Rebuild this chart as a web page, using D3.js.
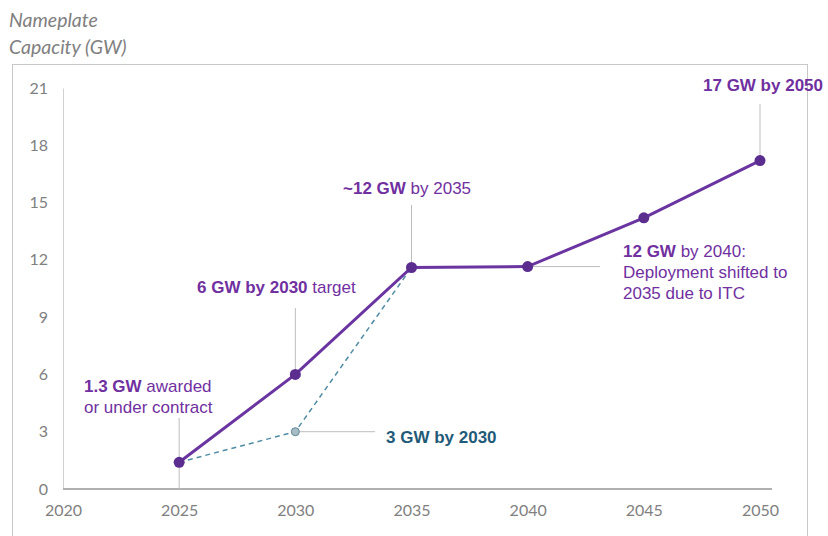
<!DOCTYPE html>
<html><head><meta charset="utf-8">
<script src="https://cdn.jsdelivr.net/npm/d3@7"></script>
<style>body{margin:0;background:#fff}svg{display:block}</style>
</head><body><svg id="c" width="828" height="536"></svg>
<script>
const years = [2025, 2030, 2035, 2040, 2045, 2050];
const planned = [1.4, 6, 11.6, 11.65, 14.2, 17.2];
const revisedYears = [2025, 2030, 2035];
const revised = [1.4, 3, 11.6];
const xTicks = [2020, 2025, 2030, 2035, 2040, 2045, 2050];
const yTicks = [0, 3, 6, 9, 12, 15, 18, 21];

const svg = d3.select("#c");
const x = d3.scaleLinear().domain([2020, 2050]).range([63, 760]);
const y = d3.scaleLinear().domain([0, 21]).range([489, 88]);
const tickFont = "Lato, 'Open Sans', sans-serif";
const purple = "#7030a0", dark = "#5b2d8e", teal = "#4f8ba3", tealText = "#1f5b78";

// frame
svg.append("rect").attr("x", 12.5).attr("y", 64.5).attr("width", 795).attr("height", 480)
  .attr("fill", "none").attr("stroke", "#c8c8c8");

// titles
svg.append("text").attr("x", 9).attr("y", 27).text("Nameplate")
  .attr("font-family", "Lato, 'Open Sans', sans-serif").attr("font-style", "italic").attr("font-size", 19.5).attr("fill", "#808080");
svg.append("text").attr("x", 9).attr("y", 54).text("Capacity (GW)")
  .attr("font-family", "Lato, 'Open Sans', sans-serif").attr("font-style", "italic").attr("font-size", 19.5).attr("fill", "#808080");

// y axis
const ya = svg.append("g").attr("transform", "translate(63,0)")
  .call(d3.axisLeft(y).tickValues(yTicks).tickSize(0).tickPadding(15));
ya.select(".domain").attr("stroke", "#d0d0d0");
ya.selectAll("text").attr("font-family", tickFont).attr("font-size", 16).attr("fill", "#808080");

// x axis
const xa = svg.append("g").attr("transform", "translate(0,489)")
  .call(d3.axisBottom(x).tickValues(xTicks).tickFormat(d3.format("d")).tickSize(0).tickPadding(16));
xa.select(".domain").attr("d", "M63,0H772").attr("stroke", "#b0b0b0").attr("stroke-width", 2);
xa.selectAll("text").attr("font-family", tickFont).attr("font-size", 16).attr("fill", "#808080");

// leader lines
const lg = "#bdbdbd";
const leaders = [
  [x(2025), y(0), x(2025), 418],
  [x(2030), y(6), x(2030), 308],
  [x(2030), y(3), 375, y(3)],
  [x(2035), y(11.6), x(2035), 205],
  [x(2040), y(11.65), 600, y(11.65)],
  [x(2050), y(17.2), x(2050), 104]
];
svg.append("g").selectAll("line").data(leaders).join("line")
  .attr("x1", d => d[0]).attr("y1", d => d[1]).attr("x2", d => d[2]).attr("y2", d => d[3])
  .attr("stroke", lg).attr("stroke-width", 1);

// dashed series
const line = d3.line().x(d => x(d[0])).y(d => y(d[1]));
const rev = revisedYears.map((d, i) => [d, revised[i]]);
svg.append("path").datum(rev).attr("d", line).attr("fill", "none")
  .attr("stroke", teal).attr("stroke-width", 1.5).attr("stroke-dasharray", "5,4");
svg.append("circle").attr("cx", x(2030)).attr("cy", y(3)).attr("r", 4)
  .attr("fill", "#a7bcc4").attr("stroke", "#5f8796").attr("stroke-width", 1);

// main series
const pl = years.map((d, i) => [d, planned[i]]);
svg.append("path").datum(pl).attr("d", line).attr("fill", "none")
  .attr("stroke", "#6a35a0").attr("stroke-width", 3);
svg.append("g").selectAll("circle").data(pl).join("circle")
  .attr("cx", d => x(d[0])).attr("cy", d => y(d[1])).attr("r", 5.5).attr("fill", dark);

// annotations
const af = "'Liberation Sans', Arial, sans-serif";
function ann(xp, yp, parts, color) {
  const t = svg.append("text").attr("x", xp).attr("y", yp).attr("font-family", af)
    .attr("font-size", 17).attr("fill", color);
  parts.forEach(p => t.append("tspan").text(p[0]).attr("font-weight", p[1] ? "bold" : "normal"));
}
ann(84, 392, [["1.3 GW", 1], [" awarded", 0]], purple);
ann(84, 413, [["or under contract", 0]], purple);
ann(386, 443, [["3 GW by 2030", 1]], tealText);
ann(197, 293, [["6 GW by 2030", 1], [" target", 0]], purple);
ann(343, 194, [["~12 GW", 1], [" by 2035", 0]], purple);
ann(623, 257, [["12 GW", 1], [" by 2040:", 0]], purple);
ann(623, 278, [["Deployment shifted to", 0]], purple);
ann(623, 299, [["2035 due to ITC", 0]], purple);
ann(703, 91, [["17 GW by 2050", 1]], purple);
</script></body></html>
